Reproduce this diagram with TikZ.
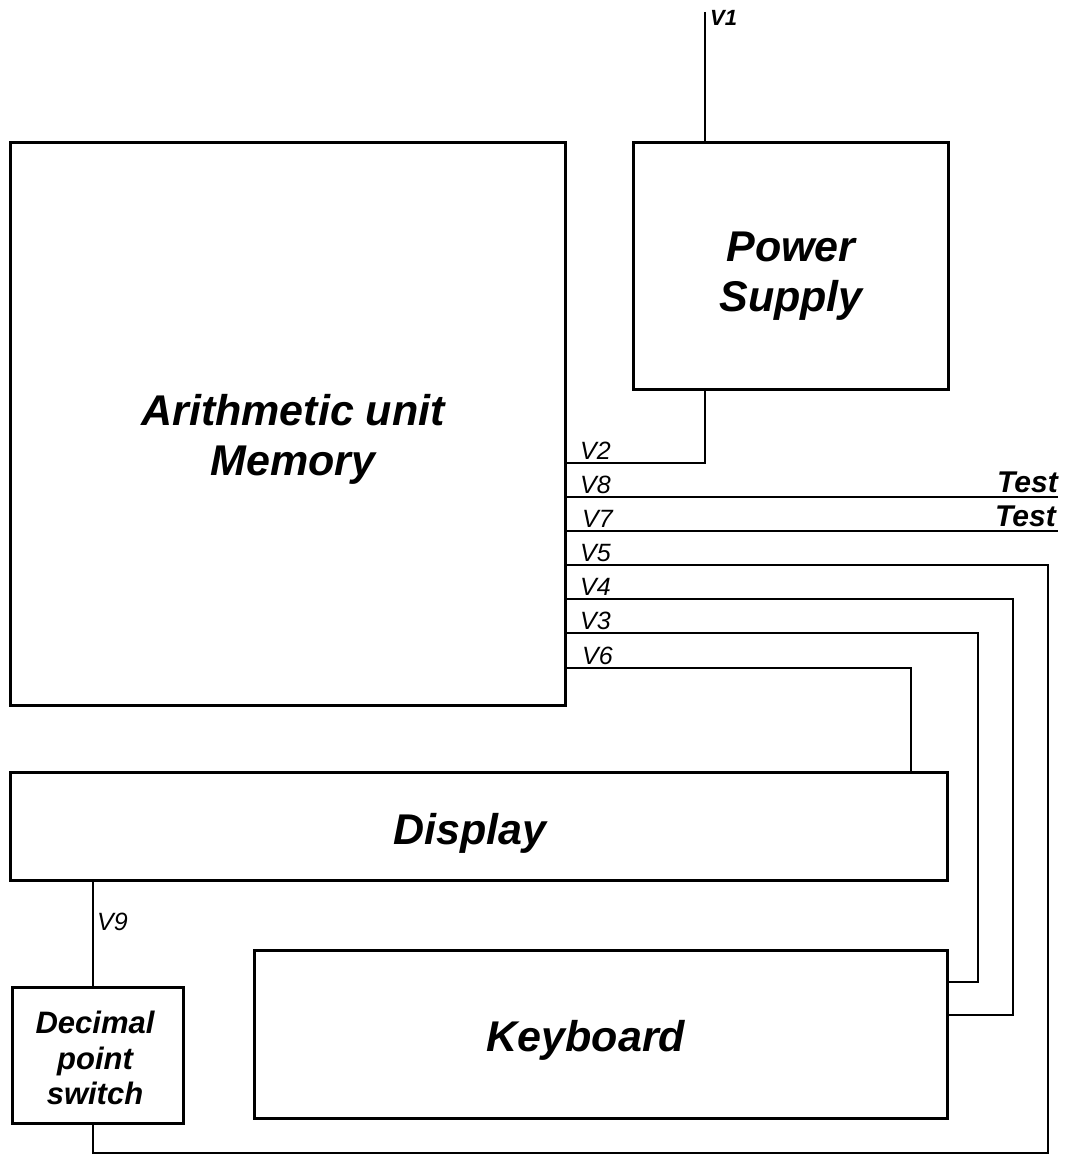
\documentclass[tikz,border=0pt]{standalone}
\usepackage{fontspec}
\setmainfont{Liberation Sans}
\begin{document}
\begin{tikzpicture}[x=1pt,y=-1pt,
  box/.style={draw, line width=3pt, rectangle, inner sep=0pt},
  boxtext/.style={align=center, font=\fontsize{43}{50}\selectfont\bfseries\itshape},
  wire/.style={line width=1.7pt},
  vlab/.style={anchor=base west, inner sep=0pt, font=\fontsize{25}{25}\selectfont\itshape},
  testlab/.style={anchor=base east, inner sep=0pt, font=\fontsize{30}{30}\selectfont\bfseries\itshape}]
\useasboundingbox (0,0) rectangle (1066,1155);
% boxes
\node[box, minimum width=555pt, minimum height=562pt] (au) at (287.5,424) {};
\node[boxtext] (autext) at (293,439) {Arithmetic unit\\Memory};
\node[box, minimum width=315pt, minimum height=246pt] (ps) at (790.5,266) {};
\node[boxtext] (pstext) at (791,276) {Power\\Supply};
\node[box, minimum width=937pt, minimum height=108pt] (disp) at (478.5,826) {};
\node[boxtext] (disptext) at (470,833) {Display};
\node[box, minimum width=171pt, minimum height=136pt] (dps) at (97.5,1055) {};
\node[align=center, font=\fontsize{31}{35.5}\selectfont\bfseries\itshape] (dpstext) at (95,1058) {Decimal\\point\\switch};
\node[box, minimum width=693pt, minimum height=168pt] (kb) at (600.5,1034) {};
\node[boxtext] (kbtext) at (586,1040) {Keyboard};
% coordinates
\coordinate (v1top) at (705,12);
\coordinate (t8) at (1058,497);
\coordinate (t7) at (1058,531);
\coordinate (c5) at (1048,1153);
\coordinate (c4) at (1013,1015);
\coordinate (c3) at (978,982);
\coordinate (v6x) at (911,0);
\coordinate (v9x) at (93,0);
% wires
\draw[wire] (v1top) -- (v1top |- ps.north);
\draw[wire] (v1top |- ps.south) |- (au.east |- 0,463);
\draw[wire] (au.east |- t8) -- (t8);
\draw[wire] (au.east |- t7) -- (t7);
\draw[wire] (au.east |- 0,565) -| (c5) -- (v9x |- c5) -- (v9x |- dps.south);
\draw[wire] (au.east |- 0,599) -| (c4) -- (kb.east |- c4);
\draw[wire] (au.east |- 0,633) -| (c3) -- (kb.east |- c3);
\draw[wire] (au.east |- 0,668) -| (v6x |- disp.north);
\draw[wire] (v9x |- disp.south) -- (v9x |- dps.north);
% labels
\node[anchor=north west, inner sep=0pt, font=\fontsize{22}{22}\selectfont\bfseries\itshape] (l1) at (710,10) {V1};
\node[vlab] (l2) at (580,459) {V2};
\node[vlab] (l8) at (580,493) {V8};
\node[vlab] (l7) at (582,527) {V7};
\node[vlab] (l5) at (580,561) {V5};
\node[vlab] (l4) at (580,595) {V4};
\node[vlab] (l3) at (580,629) {V3};
\node[vlab] (l6) at (582,664) {V6};
\node[vlab] (l9) at (97,930) {V9};
\node[testlab] (ta) at (1058,492) {Test};
\node[testlab] (tb) at (1056,526) {Test};
\end{tikzpicture}
\end{document}
